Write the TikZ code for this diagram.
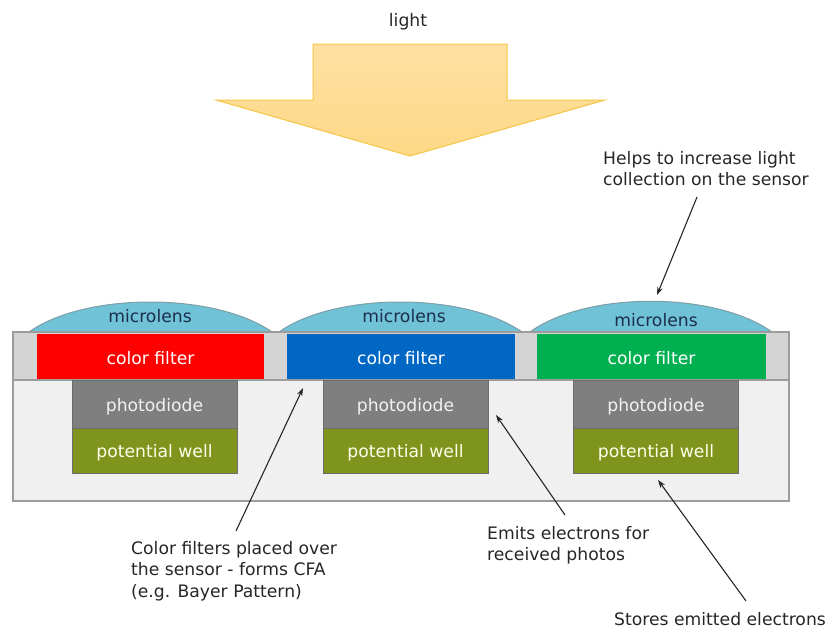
\documentclass[tikz,border=0pt]{standalone}
\usepackage{fontspec}
\setmainfont{DejaVu Sans}
\usetikzlibrary{arrows.meta}

\definecolor{lightfill}{HTML}{FDD886}
\definecolor{lighttop}{HTML}{FEE1A2}
\definecolor{lightedge}{HTML}{F6C545}
\definecolor{lensfill}{HTML}{70C2D6}
\definecolor{lensedge}{HTML}{7E9EA8}
\definecolor{lenstext}{HTML}{1C2E4A}
\definecolor{spacer}{HTML}{D4D4D4}
\definecolor{substrate}{HTML}{F0F0F0}
\definecolor{frame}{HTML}{9C9C9C}
\definecolor{cfred}{HTML}{FF0000}
\definecolor{cfblue}{HTML}{0068C4}
\definecolor{cfgreen}{HTML}{00AF50}
\definecolor{diode}{HTML}{7F7F7F}
\definecolor{well}{HTML}{7F941C}
\definecolor{note}{HTML}{262626}

\tikzset{
  x=1pt, y=-1pt,
  every node/.style={font=\fontsize{17.2}{21.5}\selectfont},
  labeltext/.style={inner sep=0pt, text height=14pt, text depth=0pt},
  layerbox/.style={labeltext, minimum height=#1},
  filterbox/.style={layerbox=46pt, text=white},
  diodebox/.style={layerbox=48pt, minimum width=165pt, fill=diode, draw=diode!85!black, line width=0.6pt, text=white!95!black},
  wellbox/.style={layerbox=45pt, minimum width=165pt, fill=well, draw=diode!85!black, line width=0.6pt, text=yellow!8!white},
  lens/.style={fill=lensfill, draw=lensedge, line width=1pt},
  notetext/.style={inner sep=0pt, align=left, anchor=north west, text=note},
  pointer/.style={draw=note, line width=1.1pt, -{Stealth[length=8pt,width=5.5pt]}}
}

\begin{document}
\begin{tikzpicture}
\useasboundingbox (0,0) rectangle (829,630);

% incoming light
\node[labeltext, text=note] (light) at (408,19) {light};
\shade[top color=lighttop, bottom color=lightfill, draw=lightedge, line width=1pt]
  (313,44) -- (507,44) -- (507,100) -- (605,100) -- (410,156)
  -- (216,100) -- (313,100) -- cycle;

% microlenses
\draw[lens] (29,332) .. controls (85,292) and (215,292) .. (272,332) -- cycle;
\draw[lens] (279,332) .. controls (335,292) and (465,292) .. (522,332) -- cycle;
\draw[lens] (530,332) .. controls (586,291) and (715,291) .. (772,332) -- cycle;
\node[labeltext, text=lenstext] (ml1) at (150,315.5) {microlens};
\node[labeltext, text=lenstext] (ml2) at (404,315.5) {microlens};
\node[labeltext, text=lenstext] (ml3) at (656,319.5) {microlens};

% substrate and filter layer
\draw[fill=substrate, draw=frame, line width=1.5pt] (13,380) rectangle (789,501);
\draw[fill=spacer, draw=frame, line width=1.5pt] (13,332) rectangle (789,380);

% colour filters
\node[filterbox, minimum width=227pt, fill=cfred] (cf1) at (150.5,357) {color filter};
\node[filterbox, minimum width=228pt, fill=cfblue] (cf2) at (401,357) {color filter};
\node[filterbox, minimum width=229pt, fill=cfgreen] (cf3) at (651.5,357) {color filter};
\draw[frame, line width=1.5pt] (13,380) -- (789,380);

% photodiodes and potential wells
\node[diodebox] (pd1) at (154.5,404) {photodiode};
\node[diodebox] (pd2) at (405.5,404) {photodiode};
\node[diodebox] (pd3) at (656,404) {photodiode};
\node[wellbox] (pw1) at (154.5,450.5) {potential well};
\node[wellbox] (pw2) at (405.5,450.5) {potential well};
\node[wellbox] (pw3) at (656,450.5) {potential well};

% annotations
\node[notetext] (helps) at (603,151) {Helps to increase light\\collection on the sensor};
\node[notetext] (cfa) at (131,541) {Color filters placed over\\the sensor - forms CFA\\(e.g. Bayer Pattern)};
\node[notetext] (emits) at (487,526) {Emits electrons for\\received photos};
\node[notetext] (stores) at (614,612) {Stores emitted electrons};

\coordinate (helpsfrom) at (697,197);
\coordinate (helpsto) at (657,295);
\coordinate (cfafrom) at (236,531);
\coordinate (cfato) at (303,388);
\coordinate (emitsfrom) at (565,515);
\coordinate (emitsto) at (496,415);
\coordinate (storesfrom) at (746,601);
\coordinate (storesto) at (658,480);

\draw[pointer] (helpsfrom) -- (helpsto);
\draw[pointer] (cfafrom) -- (cfato);
\draw[pointer] (emitsfrom) -- (emitsto);
\draw[pointer] (storesfrom) -- (storesto);
\end{tikzpicture}
\end{document}
